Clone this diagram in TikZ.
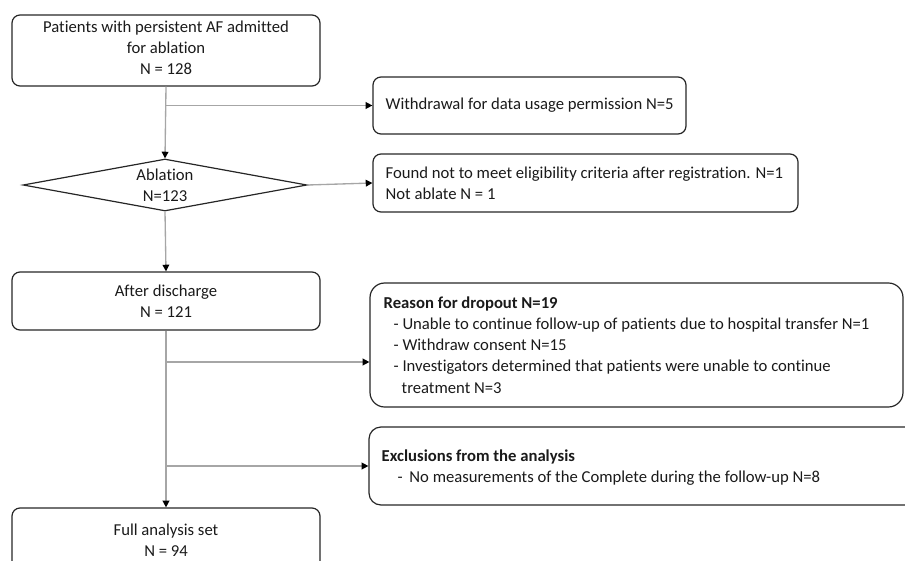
\documentclass[tikz,border=0pt]{standalone}
\usepackage{fontspec}
\setmainfont{Carlito}[Ligatures=NoCommon]
\usetikzlibrary{shapes.geometric,arrows.meta,calc}
\definecolor{boxc}{HTML}{262626}
\definecolor{linec}{HTML}{A6A6A6}
\definecolor{txtc}{HTML}{1A1A1A}
\begin{document}
\begin{tikzpicture}[x=0.75pt,y=-0.75pt,
  font=\fontsize{12.5pt}{15.9pt}\selectfont,
  every node/.style={text=txtc},
  box/.style={draw=boxc, line width=0.9pt, rounded corners=6pt, inner sep=0pt},
  conn/.style={draw=linec, line width=1pt, -{Triangle[length=5pt,width=5pt,color=black]}},
  txt/.style={inner sep=0pt, align=left, anchor=west}
]
\useasboundingbox (0,0) rectangle (905,560);
\clip (0,0) rectangle (905,560);

% main column
\node[box, minimum width=231pt, minimum height=53.25pt, text depth=4pt, align=center] (b1) at (166,50.5)
  {Patients with persistent AF admitted\\for ablation\\N = 128};

\node[draw=boxc, line width=0.9pt, diamond, aspect=5.46, inner sep=0pt,
      minimum width=213pt, minimum height=39pt, align=center] (d) at (165,185)
  {Ablation\\N=123};

\node[box, minimum width=231pt, minimum height=43.5pt, align=center] (b4) at (166,301)
  {After discharge\\N = 121};

\node[box, minimum width=231pt, minimum height=48pt, align=center] (b5) at (166,540)
  {Full analysis set\\N = 94};

% side boxes
\node[box, minimum width=234.75pt, minimum height=42.75pt] (b2) at (529.5,105.5) {};
\node[txt] (t2) at ([xshift=9.75pt]b2.west) {Withdrawal for data usage permission N=5};

\node[box, minimum width=318.75pt, minimum height=43.5pt] (b3) at (585.5,183) {};
\node[txt] (t3) at ([xshift=9.75pt]b3.west)
  {Found not to meet eligibility criteria after registration. N=1\\Not ablate N = 1};

\node[box, rounded corners=11pt, minimum width=399.75pt, minimum height=93pt] (r) at (636.5,345) {};
\node[txt] (tr) at ([xshift=10.5pt]r.west)
  {\textbf{Reason for dropout N=19}\\
   \hspace{7.5pt}- Unable to continue follow-up of patients due to hospital transfer N=1\\
   \hspace{7.5pt}- Withdraw consent N=15\\
   \hspace{7.5pt}- Investigators determined that patients were unable to continue\\
   \hspace{13.5pt}treatment N=3};

\node[box, rounded corners=9pt, minimum width=420.75pt, minimum height=58.5pt] (e) at (649.5,466) {};
\node[txt] (te) at ([xshift=9.75pt,yshift=-1pt]e.west)
  {\textbf{Exclusions from the analysis}\\
   \hspace{12pt}-\hspace{5pt}No measurements of the Complete during the follow-up N=8};

% connectors
\coordinate (j1) at (b1.south |- b2.west);
\coordinate (rin) at ([yshift=-12.75pt]r.west);
\coordinate (j2) at (b4.south |- rin);
\coordinate (j3) at (b4.south |- e.west);

\draw[conn] (b1.south) -- (d.north);
\draw[conn] (j1) -- (b2.west);
\draw[conn] (d.east) -- (b3.west);
\draw[conn] (d.south) -- (b4.north);
\draw[conn] (b4.south) -- (b5.north);
\draw[conn] (j2) -- (rin);
\draw[conn] (j3) -- (e.west);
\end{tikzpicture}
\end{document}
